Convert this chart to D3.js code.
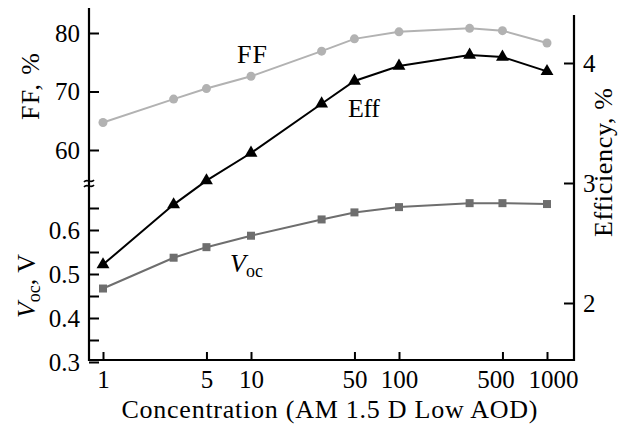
<!DOCTYPE html>
<html><head><meta charset="utf-8">
<script src="https://cdn.jsdelivr.net/npm/d3@7"></script>
<style>body{margin:0;background:#fff} svg{display:block} text{font-family:"Liberation Serif","Tinos","Times New Roman","Nimbus Roman","DejaVu Serif",serif;fill:#000}</style>
</head><body><svg id="c" width="624" height="426"></svg>
<script>
const concentration=[1,3,5,10,30,50,100,300,500,1000];
const ff=[64.7,68.7,70.5,72.6,76.9,79.0,80.2,80.8,80.4,78.3];
const eff=[2.32,2.82,3.02,3.25,3.66,3.85,3.975,4.067,4.05,3.93];
const voc=[0.467,0.537,0.561,0.587,0.624,0.640,0.652,0.661,0.661,0.659];
const xTicks=[1,5,10,50,100,500,1000];
const ffTicks=[60,70,80];
const vocTicks=[0.3,0.4,0.5,0.6];
const vocMinor=[0.35,0.45,0.55,0.65];
const effTicks=[2,3,4];

const svg=d3.select("#c");
const FS=25, TS=26;
const x=d3.scaleLog().domain([1,1000]).range([103,547]);
const yFF=d3.scaleLinear().domain([60,80]).range([150,33]);
const yV=d3.scaleLinear().domain([0.4,0.6]).range([318,230]);
const yE=d3.scaleLinear().domain([2,4]).range([303,63]);
const L=89,R=574,B=360;

function style(g){g.attr("font-family",null).attr("font-size",null);g.select(".domain").remove();g.selectAll("line").attr("stroke","#000").attr("stroke-width",2);g.selectAll("text").attr("font-size",FS).attr("fill","#000");}

svg.append("g").attr("transform",`translate(${L},0)`).call(d3.axisLeft(yFF).tickValues(ffTicks).tickSize(-10).tickPadding(9).tickFormat(d3.format("d"))).call(style);
svg.append("g").attr("transform",`translate(${L},0)`).call(d3.axisLeft(yV).tickValues(vocTicks).tickSize(-10).tickPadding(9).tickFormat(d3.format(".1f"))).call(style);
svg.append("g").attr("transform",`translate(${L},0)`).call(d3.axisLeft(yV).tickValues(vocMinor).tickSize(-10).tickFormat("")).call(style);
svg.append("g").attr("transform",`translate(${R},0)`).call(d3.axisRight(yE).tickValues(effTicks).tickSize(-10).tickPadding(9).tickFormat(d3.format("d"))).call(style);
const xg=svg.append("g").attr("transform",`translate(0,${B})`).call(d3.axisBottom(x).tickValues(xTicks).tickSize(-8).tickPadding(10.25).tickFormat(d3.format("d"))).call(style);
// crowded labels at the right end are nudged apart, as in the original
xg.selectAll(".tick text").attr("dx",d=>d===500?-7:(d===1000?6:0));

// axis lines
svg.append("line").attr("x1",L).attr("x2",L).attr("y1",8).attr("y2",B+1).attr("stroke","#000").attr("stroke-width",2.2);
svg.append("line").attr("x1",R).attr("x2",R).attr("y1",15).attr("y2",B+1).attr("stroke","#000").attr("stroke-width",2.2);
svg.append("line").attr("x1",L-1).attr("x2",R+1).attr("y1",B).attr("y2",B).attr("stroke","#000").attr("stroke-width",2.2);

// break marks
[181,186].forEach(yy=>{
  svg.append("path").attr("d",`M${L-5},${yy+1} C${L-2},${yy-3} ${L+2},${yy+3} ${L+5},${yy-1}`).attr("fill","none").attr("stroke","#000").attr("stroke-width",1.6);
});

// series
function series(vals,yS,col,w){
  const line=d3.line().x((d,i)=>x(concentration[i])).y(d=>yS(d));
  svg.append("path").datum(vals).attr("d",line).attr("fill","none").attr("stroke",col).attr("stroke-width",w);
}
series(ff,yFF,"#b2b2b2",2);
series(voc,yV,"#6e6e6e",2);
series(eff,yE,"#000",2);

svg.append("g").selectAll("circle").data(ff).join("circle").attr("cx",(d,i)=>x(concentration[i])).attr("cy",d=>yFF(d)).attr("r",4.5).attr("fill","#b2b2b2");
svg.append("g").selectAll("rect").data(voc).join("rect").attr("x",(d,i)=>x(concentration[i])-4).attr("y",d=>yV(d)-4).attr("width",8).attr("height",8).attr("fill","#6e6e6e");
svg.append("g").selectAll("path").data(eff).join("path").attr("d",d3.symbol(d3.symbolTriangle,72)).attr("transform",(d,i)=>`translate(${x(concentration[i])},${yE(d)})`).attr("fill","#000");

// series labels
svg.append("text").attr("x",237).attr("y",63).attr("font-size",TS).attr("textLength",30).text("FF");
svg.append("text").attr("x",348).attr("y",117).attr("font-size",TS).attr("textLength",32).text("Eff");
const vl=svg.append("text").attr("x",230).attr("y",272).attr("font-size",TS);
vl.append("tspan").attr("font-style","italic").text("V");
vl.append("tspan").attr("font-size",18).attr("dy",5).text("oc");

// axis titles
svg.append("text").attr("transform","translate(39,86.5) rotate(-90)").attr("text-anchor","middle").attr("font-size",TS).attr("textLength",67).attr("lengthAdjust","spacing").text("FF, %");
const vt=svg.append("text").attr("transform","translate(35,286) rotate(-90)").attr("text-anchor","middle").attr("font-size",TS);
vt.append("tspan").attr("font-style","italic").text("V");
vt.append("tspan").attr("font-size",18).attr("dy",5).text("oc");
vt.append("tspan").attr("dy",-5).text(", V");
svg.append("text").attr("transform","translate(612,162.5) rotate(-90)").attr("text-anchor","middle").attr("font-size",TS).attr("textLength",149).attr("lengthAdjust","spacing").text("Efficiency, %");
svg.append("text").attr("x",329.5).attr("y",417.5).attr("text-anchor","middle").attr("font-size",TS).attr("textLength",416).attr("lengthAdjust","spacing").text("Concentration (AM 1.5 D Low AOD)");
</script></body></html>
